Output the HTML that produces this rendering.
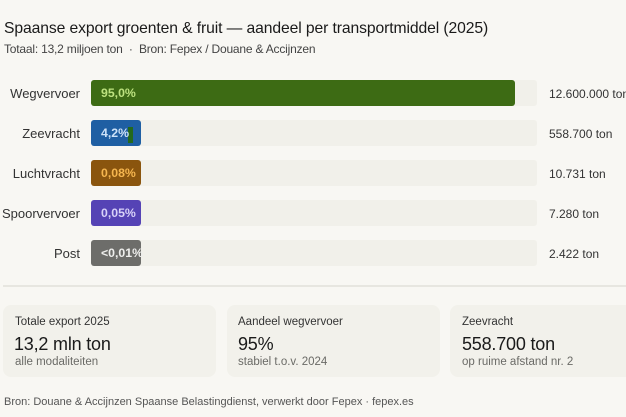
<!DOCTYPE html>
<html>
<head>
<meta charset="utf-8">
<style>
  html,body{margin:0;padding:0;}
  body{width:626px;height:417px;background:#f8f7f3;font-family:"Liberation Sans",sans-serif;color:#1c1c1c;position:relative;overflow:hidden;}
  .abs{position:absolute;white-space:nowrap;}
  .title{left:4px;top:20px;font-size:15.7px;color:#1a1a1a;letter-spacing:-0.1px;}
  .sub{left:4px;top:42px;font-size:12px;color:#444;letter-spacing:-0.2px;}
  .lbl{width:80px;left:0;text-align:right;font-size:13px;color:#333;}
  .track{left:91px;width:446px;height:26px;background:#f1f0ea;border-radius:3px;}
  .fill{left:91px;height:26px;border-radius:3px;}
  .pct{left:101px;font-size:12.3px;font-weight:bold;}
  .val{left:549px;font-size:12px;color:#333;}
  .card{background:#f2f1eb;border-radius:8px;height:72px;top:305px;}
  .cl{font-size:11.5px;color:#333;}
  .cv{font-size:18px;color:#1a1a1a;letter-spacing:-0.2px;}
  .cs{font-size:11.5px;color:#6a6a66;}
</style>
</head>
<body>
<div class="abs title">Spaanse export groenten &amp; fruit — aandeel per transportmiddel (2025)</div>
<div class="abs sub">Totaal: 13,2 miljoen ton &nbsp;·&nbsp; Bron: Fepex / Douane &amp; Accijnzen</div>

<!-- Row 1 -->
<div class="abs lbl" style="top:86px;">Wegvervoer</div>
<div class="abs track" style="top:80px;"></div>
<div class="abs fill" style="top:80px;width:424px;background:#3d6b14;"></div>
<div class="abs pct" style="top:86px;color:#bde27f;">95,0%</div>
<div class="abs val" style="top:87px;">12.600.000 ton</div>

<!-- Row 2 -->
<div class="abs lbl" style="top:126px;">Zeevracht</div>
<div class="abs track" style="top:120px;"></div>
<div class="abs fill" style="top:120px;width:50px;background:#1f5fa3;"></div>
<div class="abs" style="left:128px;top:127px;width:5px;height:16px;background:#24691c;"></div>
<div class="abs pct" style="top:126px;color:#cde2f8;">4,2%</div>
<div class="abs val" style="top:127px;">558.700 ton</div>

<!-- Row 3 -->
<div class="abs lbl" style="top:166px;">Luchtvracht</div>
<div class="abs track" style="top:160px;"></div>
<div class="abs fill" style="top:160px;width:50px;background:#8a550e;"></div>
<div class="abs pct" style="top:166px;color:#f6b64f;">0,08%</div>
<div class="abs val" style="top:167px;">10.731 ton</div>

<!-- Row 4 -->
<div class="abs lbl" style="top:206px;">Spoorvervoer</div>
<div class="abs track" style="top:200px;"></div>
<div class="abs fill" style="top:200px;width:50px;background:#5543b5;"></div>
<div class="abs pct" style="top:206px;color:#d8d2f8;">0,05%</div>
<div class="abs val" style="top:207px;">7.280 ton</div>

<!-- Row 5 -->
<div class="abs lbl" style="top:246px;">Post</div>
<div class="abs track" style="top:240px;"></div>
<div class="abs fill" style="top:240px;width:50px;background:#6d6d6a;"></div>
<div class="abs pct" style="top:246px;color:#eeeeec;">&lt;0,01%</div>
<div class="abs val" style="top:247px;">2.422 ton</div>

<!-- divider -->
<div class="abs" style="left:3px;top:285px;width:623px;height:2px;background:#e7e6e0;"></div>

<!-- cards -->
<div class="abs card" style="left:3px;width:213px;"></div>
<div class="abs cl" style="left:15px;top:316px;">Totale export 2025</div>
<div class="abs cv" style="left:14px;top:334px;">13,2 mln ton</div>
<div class="abs cs" style="left:15px;top:356px;">alle modaliteiten</div>

<div class="abs card" style="left:227px;width:213px;"></div>
<div class="abs cl" style="left:238px;top:316px;">Aandeel wegvervoer</div>
<div class="abs cv" style="left:238px;top:334px;">95%</div>
<div class="abs cs" style="left:238px;top:356px;">stabiel t.o.v. 2024</div>

<div class="abs card" style="left:450px;width:190px;"></div>
<div class="abs cl" style="left:462px;top:316px;">Zeevracht</div>
<div class="abs cv" style="left:462px;top:334px;">558.700 ton</div>
<div class="abs cs" style="left:462px;top:356px;">op ruime afstand nr. 2</div>

<div class="abs" style="left:4px;top:396px;font-size:11px;color:#555;">Bron: Douane &amp; Accijnzen Spaanse Belastingdienst, verwerkt door Fepex · fepex.es</div>
</body>
</html>
